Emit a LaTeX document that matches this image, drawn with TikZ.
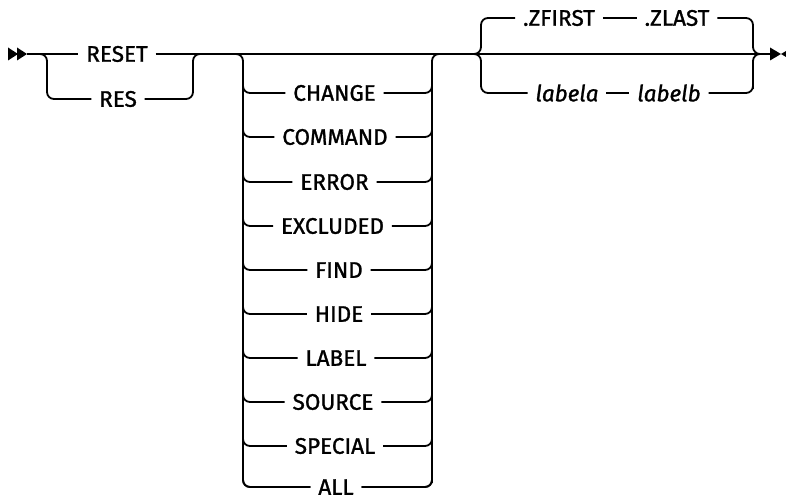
\documentclass[tikz,border=0pt]{standalone}
\usepackage{fontspec}
\setmainfont{Fira Sans}[FakeBold=1.2]
\begin{document}
\begin{tikzpicture}[x=1pt,y=-1pt,line width=1.8pt,
  rc/.style={rounded corners=7pt},
  lbl/.style={inner xsep=7pt,inner ysep=0pt,font=\fontsize{22.5}{24}\selectfont},
  ilbl/.style={lbl,font=\fontsize{22.5}{24}\selectfont\itshape}]
\useasboundingbox (0,0) rectangle (786,497);
% start and end marks
\fill (8,47.5) -- (18,54) -- (8,60.5) -- cycle;
\fill (17,47.5) -- (27,54) -- (17,60.5) -- cycle;
\fill (770,47.5) -- (781,54) -- (770,60.5) -- cycle;
\fill (792,47.5) -- (781,54) -- (792,60.5) -- cycle;
\coordinate (start) at (27,54);
\coordinate (end) at (771,54);
% RESET / RES
\node[lbl] (reset) at (117,54) {RESET};
\node[lbl] (res) at (118,99) {RES};
\draw (start) -- (reset.west);
\draw (reset.east) -- (end);
\coordinate (ba) at (33,54);
\coordinate (bb) at (47,99);
\coordinate (bc) at (193,54);
\coordinate (bd) at (207,54);
\draw[rc] (ba) -| (bb) -- (res.west);
\draw[rc] (res.east) -| (bc) -- (bd);
% stack
\foreach \t/\x/\y/\n in {CHANGE/334.5/93/s1,COMMAND/335/137/s2,ERROR/334.5/182/s3,
  EXCLUDED/332.5/226/s4,FIND/339/270/s5,HIDE/339/314/s6,LABEL/336/358/s7,
  SOURCE/333/402/s8,SPECIAL/335/446/s9,ALL/336/487/s10}{
  \node[lbl] (\n) at (\x,\y) {\t};
  \draw[rc] (243,\y-12) |- (\n.west);
  \draw[rc] (\n.east) -| (432,\y-12);
}
\coordinate (sl) at (229,54);
\coordinate (slb) at (243,487);
\coordinate (sr) at (446,54);
\coordinate (srb) at (432,487);
\draw[rc] (sl) -| (slb) -- (s10.west);
\draw[rc] (s10.east) -| (srb) |- (sr);
% right choice
\node[lbl] (zf) at (559,18) {.ZFIRST};
\node[lbl] (zl) at (677,18) {.ZLAST};
\node[ilbl] (la) at (567,93) {labela};
\node[ilbl] (lb) at (669,93) {labelb};
\draw (zf.east) -- (zl.west);
\draw (la.east) -- (lb.west);
\coordinate (jl) at (481,54);
\coordinate (jla) at (468,54);
\coordinate (jr) at (753,54);
\coordinate (jrb) at (766,54);
\draw[rc] (zf.west) -| (jl) -- (jla);
\draw[rc] (jla) -| (481,93) -- (la.west);
\draw[rc] (zl.east) -| (jr) -- (jrb);
\draw[rc] (lb.east) -| (753,93) |- (jrb);
\end{tikzpicture}
\end{document}
